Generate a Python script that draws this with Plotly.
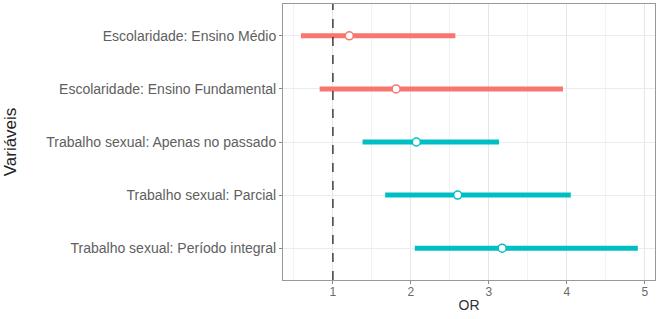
import plotly.graph_objects as go

categories = [
    "Escolaridade: Ensino Médio",
    "Escolaridade: Ensino Fundamental",
    "Trabalho sexual: Apenas no passado",
    "Trabalho sexual: Parcial",
    "Trabalho sexual: Período integral",
]
or_values = [1.21, 1.81, 2.07, 2.60, 3.17]
ci_low = [0.59, 0.83, 1.38, 1.67, 2.05]
ci_high = [2.57, 3.95, 3.13, 4.05, 4.91]
groups = ["Escolaridade", "Escolaridade", "Trabalho", "Trabalho", "Trabalho"]
group_colors = {"Escolaridade": "#F8766D", "Trabalho": "#00BFC4"}

fig = go.Figure()
for cat, lo, hi, g in zip(categories, ci_low, ci_high, groups):
    fig.add_trace(go.Scatter(
        x=[lo, hi], y=[cat, cat], mode="lines",
        line=dict(color=group_colors[g], width=5),
        showlegend=False, hoverinfo="skip"))
for cat, v, g in zip(categories, or_values, groups):
    fig.add_trace(go.Scatter(
        x=[v], y=[cat], mode="markers",
        marker=dict(color="white", size=8, line=dict(color=group_colors[g], width=1.5)),
        showlegend=False))

fig.add_vline(x=1, line=dict(color="#222222", width=1.3, dash="dash"))

font_family = "Liberation Sans, Arial, sans-serif"
fig.update_layout(
    width=661, height=319,
    margin=dict(l=283, r=6, t=4, b=39, autoexpand=False),
    paper_bgcolor="white", plot_bgcolor="white",
    font=dict(family=font_family, color="#555555", size=13),
    xaxis=dict(
        range=[0.36, 5.13], tickvals=[1, 2, 3, 4, 5],
        automargin=False,
        showgrid=True, gridcolor="#e6e6e6", gridwidth=1,
        minor=dict(dtick=0.5, tick0=0.5, showgrid=True, gridcolor="#f2f2f2", gridwidth=1),
        ticks="outside", ticklen=3, tickcolor="#888888",
        ticklabelstandoff=-2,
        tickfont=dict(size=12, color="#6a6a6a"),
        showline=True, linecolor="#999999", mirror=True, linewidth=1,
        zeroline=False,
        title=dict(text="OR", font=dict(size=14, color="#333333"), standoff=1),
    ),
    yaxis=dict(
        categoryorder="array", categoryarray=categories,
        range=[4.6, -0.6],
        automargin=False,
        showgrid=True, gridcolor="#ebebeb", gridwidth=1,
        ticks="outside", ticklen=3, tickcolor="#888888",
        ticklabelstandoff=0,
        tickfont=dict(size=14, color="#606060"),
        showline=True, linecolor="#999999", mirror=True, linewidth=1,
        zeroline=False,
        title=dict(text="Variáveis", font=dict(size=17, color="#222222"), standoff=25),
    ),
)

fig.write_html("out.html", config={"displayModeBar": False},
               post_script="document.body.style.margin='0px';")
